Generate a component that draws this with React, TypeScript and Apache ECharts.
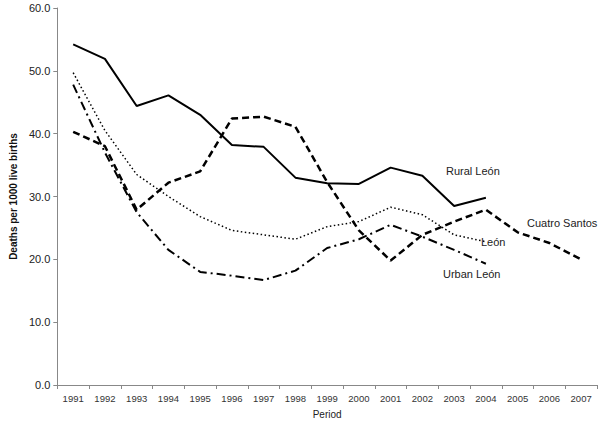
import React, { useEffect, useRef } from "react";
import * as echarts from "echarts";

const years = ["1991","1992","1993","1994","1995","1996","1997","1998","1999","2000","2001","2002","2003","2004","2005","2006","2007"];
const ruralLeon = [54.2, 51.9, 44.4, 46.1, 43.0, 38.2, 37.9, 33.0, 32.1, 32.0, 34.6, 33.3, 28.5, 29.8, null, null, null];
const cuatroSantos = [40.3, 38.0, 27.9, 32.2, 34.0, 42.4, 42.7, 41.1, 32.3, 24.6, 19.8, 23.9, 26.0, 27.9, 24.3, 22.6, 20.0];
const leon = [49.7, 40.5, 33.5, 30.0, 26.8, 24.6, 23.9, 23.2, 25.2, 26.0, 28.3, 27.1, 23.9, 22.8, null, null, null];
const urbanLeon = [47.8, 37.0, 27.5, 21.5, 18.0, 17.4, 16.7, 18.2, 21.8, 23.2, 25.5, 23.6, 21.5, 19.3, null, null, null];

export default function App() {
  const ref = useRef<HTMLDivElement>(null);
  useEffect(() => {
    document.body.style.margin = "0";
    const chart = echarts.init(ref.current!, null, { renderer: "svg" });
    const font = "Liberation Sans, Arial, sans-serif";
    const lbl = (text: string, x: number, y: number) => ({
      type: "text", left: x, top: y,
      style: { text, fill: "#222", font: `11px ${font}` },
    });
    chart.setOption({
      animation: false,
      backgroundColor: "#fff",
      grid: { left: 47, right: 3, top: 8, bottom: 41, containLabel: false },
      xAxis: {
        type: "category",
        data: years,
        boundaryGap: true,
        name: "Period",
        nameLocation: "middle",
        nameGap: 24,
        nameTextStyle: { fontFamily: font, fontSize: 10, color: "#222" },
        axisLine: { lineStyle: { color: "#888", width: 1 } },
        axisTick: { show: true, alignWithLabel: false, length: 4, lineStyle: { color: "#888" } },
        axisLabel: { fontFamily: font, fontSize: 9.5, color: "#333", margin: 8, interval: 0 },
        splitLine: { show: false },
      },
      yAxis: {
        type: "value",
        min: 0,
        max: 60,
        interval: 10,
        name: "Deaths per 1000 live births",
        nameLocation: "middle",
        nameGap: 33,
        nameTextStyle: { fontFamily: font, fontSize: 10, fontWeight: "bold", color: "#111" },
        axisLine: { show: true, lineStyle: { color: "#888", width: 1 } },
        axisTick: { show: true, length: 4, lineStyle: { color: "#888" } },
        axisLabel: { fontFamily: font, fontSize: 11, color: "#222", margin: 7, formatter: (v: number) => v.toFixed(1) },
        splitLine: { show: false },
      },
      series: [
        { name: "Rural León", type: "line", data: ruralLeon, symbol: "none", lineStyle: { color: "#000", width: 2, type: "solid" } },
        { name: "Cuatro Santos", type: "line", data: cuatroSantos, symbol: "none", lineStyle: { color: "#000", width: 2.5, type: [7, 4] } },
        { name: "León", type: "line", data: leon, symbol: "none", lineStyle: { color: "#000", width: 1.5, type: [1.5, 2.5] } },
        { name: "Urban León", type: "line", data: urbanLeon, symbol: "none", lineStyle: { color: "#000", width: 2, type: [9, 4, 2, 4] } },
      ],
      graphic: [
        lbl("Rural León", 446, 165),
        lbl("Cuatro Santos", 527, 217),
        lbl("León", 481, 236),
        lbl("Urban León", 443, 268),
      ],
    });
    return () => chart.dispose();
  }, []);
  return <div ref={ref} style={{ width: 600, height: 426 }} />;
}
